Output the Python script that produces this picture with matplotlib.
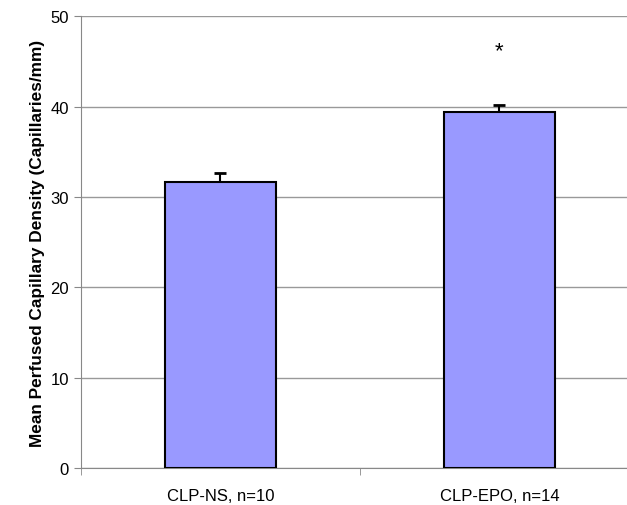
import matplotlib.pyplot as plt
from matplotlib.ticker import FixedLocator

plt.rcParams['font.family'] = ['Liberation Sans', 'DejaVu Sans']

groups = ["CLP-NS, n=10", "CLP-EPO, n=14"]
means = [31.7, 39.4]
errs = [1.0, 0.75]
stars = ["", "*"]

fig = plt.figure(figsize=(6.27, 5.06), dpi=100)
ax = fig.add_axes([0.129, 0.073, 0.871, 0.893])

x = range(len(groups))
ax.bar(x, means, width=0.4, color="#9999ff", edgecolor="black", linewidth=1.5, zorder=3)
ax.errorbar(x, means, yerr=[[0, 0], errs], fmt="none", ecolor="black",
            elinewidth=1.5, capsize=4, capthick=2, zorder=2)
for i, s in enumerate(stars):
    if s:
        ax.text(i, means[i] + errs[i] + 6.0, s, ha="center", va="center", fontsize=16)

ax.set_ylim(0, 50)
ax.set_xlim(-0.5, 1.457)
ax.set_yticks([0, 10, 20, 30, 40, 50])
ax.set_xticks(list(x))
ax.set_xticklabels(groups, fontsize=12)
ax.tick_params(axis="x", length=0, pad=14)
ax.xaxis.set_minor_locator(FixedLocator([-0.5, 0.5]))
ax.tick_params(axis="x", which="minor", length=5, color="#888888")
ax.tick_params(axis="y", labelsize=12, length=5, color="#888888")
ax.yaxis.grid(True, color="#999999", linewidth=1, zorder=0)
ax.set_axisbelow(True)
for s in ["top", "right"]:
    ax.spines[s].set_visible(False)
ax.spines["left"].set_color("#888888")
ax.spines["bottom"].set_color("#888888")
ax.set_ylabel("Mean Perfused Capillary Density (Capillaries/mm)", fontsize=12.4, fontweight="bold")

plt.savefig("out.png", dpi=100)
